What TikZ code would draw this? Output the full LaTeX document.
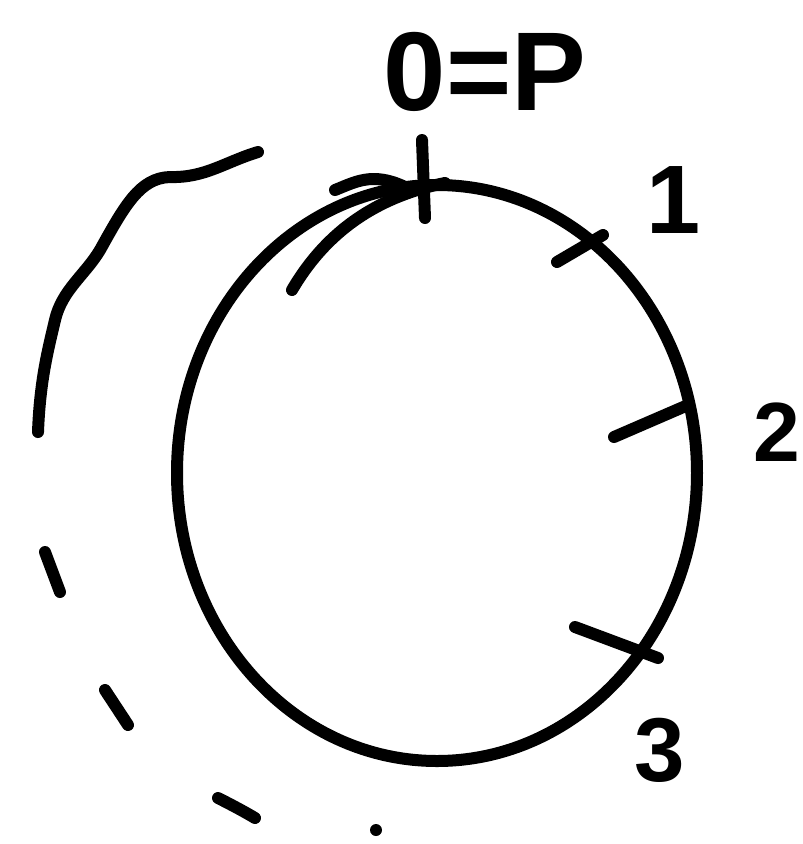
\documentclass[tikz,border=0pt]{standalone}
\usepackage{fontspec}
\setmainfont{Liberation Sans}
\begin{document}
\begin{tikzpicture}[x=0.75pt,y=-0.75pt,
  pen/.style={line width=9pt,line cap=round,line join=round,draw=black},
  lbl/.style={inner sep=0pt,font=\bfseries}]
\useasboundingbox (0,0) rectangle (803,844);
% main circle
\draw[pen] (437,473) ellipse [x radius=260, y radius=288];
% inner arc and hook near top
\draw[pen] (292,290) .. controls (330,225) and (385,195) .. (445,183);
\draw[pen] (335,190) .. controls (355,182) and (372,172) .. (403,186);
% ticks
\draw[pen] (422,140) -- (425,218);
\draw[pen] (557,262) -- (603,235);
\draw[pen] (614,437) -- (688,405);
\draw[pen] (575,627) -- (658,658);
% outer dashed-like arc
\draw[pen] (258,152) .. controls (225,162) and (205,178) .. (170,177)
  .. controls (140,178) and (125,205) .. (100,250)
  .. controls (85,275) and (62,290) .. (55,320)
  .. controls (48,350) and (40,380) .. (38,432);
\draw[pen] (45,552) -- (60,592);
\draw[pen] (105,690) -- (128,725);
\draw[pen] (218,798) .. controls (232,805) and (245,812) .. (255,818);
\fill (376,830) circle [radius=6];
% labels
\node[lbl,font=\bfseries\fontsize{84}{84}\selectfont] (lp) at (485,72) {0=P};
\node[lbl,font=\bfseries\fontsize{73}{73}\selectfont] (l1) at (674,200) {1};
\node[lbl,font=\bfseries\fontsize{63}{63}\selectfont] (l2) at (777,432) {2};
\node[lbl,font=\bfseries\fontsize{68}{68}\selectfont] (l3) at (660,750) {3};
\end{tikzpicture}
\end{document}
